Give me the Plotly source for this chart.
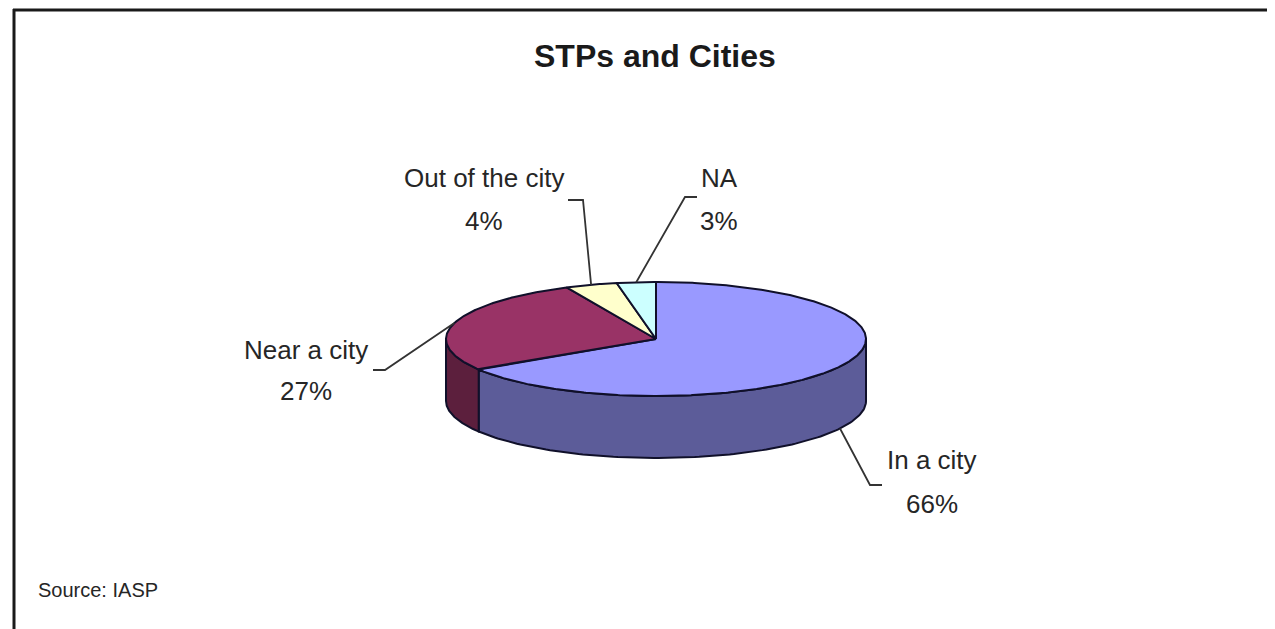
import numpy as np
import plotly.graph_objects as go

# ---- data ----
categories = ["In a city", "Near a city", "Out of the city", "NA"]
shares = [66, 27, 4, 3]
title_text = "STPs and Cities"
source_text = "Source: IASP"

# ---- styles / layout constants ----
top_colors = ["#9999FF", "#993366", "#FFFFCC", "#CCFFFF"]
side_colors = ["#5C5C99", "#5C1F3D", "#99997A", "#7A9999"]
edge_color = "#10102a"
W, H = 1275, 629
OFF = 8                    # page body margin, so data coords == window pixels
CX, CY = 656, 339          # centre of the top face
RX, RY = 210, 57           # ellipse radii
DEPTH = 62                 # thickness of the pie
# label centre x, name y, percent y
label_pos = [(932, 460, 504), (306, 350, 391), (484, 178, 221), (719, 178, 221)]
# leader elbow (x_text_end, x_elbow, y)
leader_elbow = [(882, 870, 485), (373, 385, 370), (568, 583, 200), (697, 685, 197)]
FONT = "Liberation Sans, Arial, sans-serif"


def pt(theta_deg, dy=0.0):
    t = np.radians(theta_deg)
    return CX + RX * np.sin(t), CY - RY * np.cos(t) + dy


fig = go.Figure()

total = float(sum(shares))
starts = np.cumsum([0] + shares[:-1]) / total * 360.0
ends = np.cumsum(shares) / total * 360.0

# side walls (only the front half 90..270 deg is visible)
for i, (a0, a1) in enumerate(zip(starts, ends)):
    lo, hi = max(a0, 90.0), min(a1, 270.0)
    if hi <= lo:
        continue
    th = np.linspace(lo, hi, 120)
    xt, yt = pt(th)
    xb, yb = pt(th[::-1], DEPTH)
    xs = np.concatenate([xt, xb, xt[:1]])
    ys = np.concatenate([yt, yb, yt[:1]])
    fig.add_trace(go.Scatter(x=xs, y=ys, mode="lines", fill="toself",
                             fillcolor=side_colors[i],
                             line=dict(color=edge_color, width=2),
                             hoverinfo="skip", showlegend=False))

# top faces
for i, (a0, a1) in enumerate(zip(starts, ends)):
    th = np.linspace(a0, a1, max(int((a1 - a0) * 2), 8))
    xa, ya = pt(th)
    xs = np.concatenate([[CX], xa, [CX]])
    ys = np.concatenate([[CY], ya, [CY]])
    fig.add_trace(go.Scatter(x=xs, y=ys, mode="lines", fill="toself",
                             fillcolor=top_colors[i],
                             line=dict(color=edge_color, width=2),
                             hoverinfo="skip", showlegend=False,
                             name=categories[i]))

# leader lines (anchored at slice mid-angle)
for i, (a0, a1) in enumerate(zip(starts, ends)):
    mid = (a0 + a1) / 2.0
    front = 90.0 < mid < 270.0
    ax, ay = pt(mid, DEPTH if front else 0.0)
    x0, xe, ye = leader_elbow[i]
    fig.add_trace(go.Scatter(x=[x0, xe, ax], y=[ye, ye, ay], mode="lines",
                             line=dict(color="#333333", width=1.8),
                             hoverinfo="skip", showlegend=False))

annotations = []
for i, cat in enumerate(categories):
    lx, ny, py = label_pos[i]
    pct = f"{round(shares[i] / total * 100)}%"
    for txt, yy in ((cat, ny), (pct, py)):
        annotations.append(dict(x=lx, y=yy, xref="x", yref="y", text=txt,
                                showarrow=False, xanchor="center", yanchor="middle",
                                font=dict(family=FONT, size=26, color="#262626")))

annotations.append(dict(x=655, y=56, xref="x", yref="y", text=f"<b>{title_text}</b>",
                        showarrow=False, xanchor="center", yanchor="middle",
                        font=dict(family=FONT, size=32, color="#1a1a1a")))
annotations.append(dict(x=36, y=590, xref="x", yref="y", text=source_text,
                        showarrow=False, xanchor="left", yanchor="middle",
                        font=dict(family=FONT, size=20, color="#262626")))

shapes = [
    dict(type="line", xref="x", yref="y", x0=13, x1=W, y0=10, y1=10,
         line=dict(color="#1a1a1a", width=3)),
    dict(type="line", xref="x", yref="y", x0=14, x1=14, y0=9, y1=H,
         line=dict(color="#1a1a1a", width=3)),
]

fig.update_layout(
    width=W - OFF, height=H - OFF,
    margin=dict(l=0, r=0, t=0, b=0),
    paper_bgcolor="white", plot_bgcolor="white",
    xaxis=dict(range=[OFF, W], visible=False, fixedrange=True),
    yaxis=dict(range=[H, OFF], visible=False, fixedrange=True),
    annotations=annotations, shapes=shapes,
    showlegend=False,
)

fig.write_html("out.html")
